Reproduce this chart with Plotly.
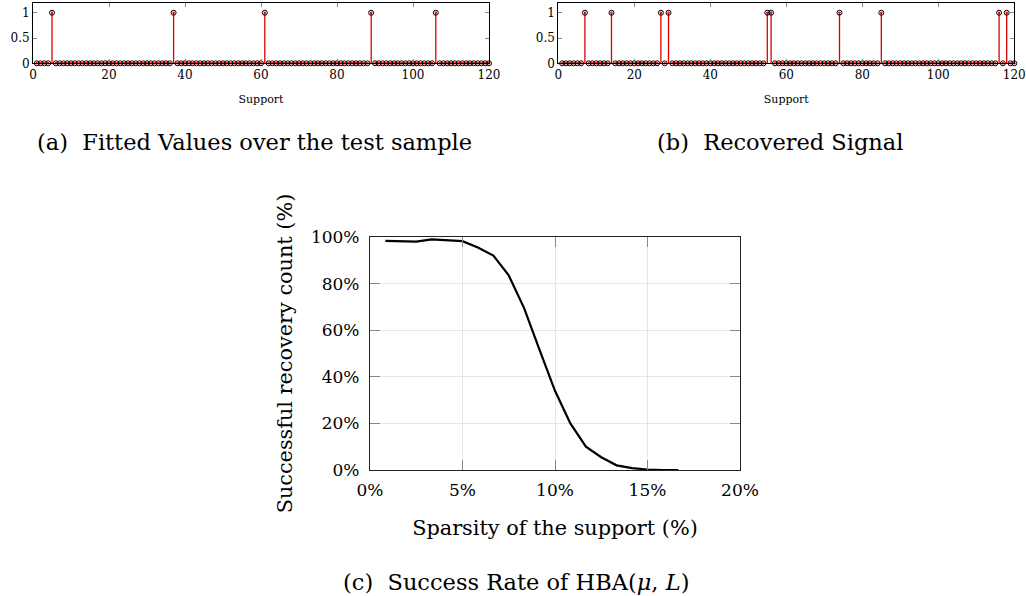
import plotly.graph_objects as go

# ---------------- data ----------------
support = list(range(1, 121))

fitted_values = [
    0, 0, 0, 0, 1, 0, 0, 0, 0, 0, 0, 0, 0, 0, 0, 0, 0, 0, 0, 0,   # 1-20
    0, 0, 0, 0, 0, 0, 0, 0, 0, 0, 0, 0, 0, 0, 0, 0, 1, 0, 0, 0,   # 21-40
    0, 0, 0, 0, 0, 0, 0, 0, 0, 0, 0, 0, 0, 0, 0, 0, 0, 0, 0, 0,   # 41-60
    1, 0, 0, 0, 0, 0, 0, 0, 0, 0, 0, 0, 0, 0, 0, 0, 0, 0, 0, 0,   # 61-80
    0, 0, 0, 0, 0, 0, 0, 0, 1, 0, 0, 0, 0, 0, 0, 0, 0, 0, 0, 0,   # 81-100
    0, 0, 0, 0, 0, 1, 0, 0, 0, 0, 0, 0, 0, 0, 0, 0, 0, 0, 0, 0,   # 101-120
]

recovered_signal = [
    0, 0, 0, 0, 0, 0, 1, 0, 0, 0, 0, 0, 0, 1, 0, 0, 0, 0, 0, 0,   # 1-20
    0, 0, 0, 0, 0, 0, 1, 0, 1, 0, 0, 0, 0, 0, 0, 0, 0, 0, 0, 0,   # 21-40
    0, 0, 0, 0, 0, 0, 0, 0, 0, 0, 0, 0, 0, 0, 1, 1, 0, 0, 0, 0,   # 41-60
    0, 0, 0, 0, 0, 0, 0, 0, 0, 0, 0, 0, 0, 1, 0, 0, 0, 0, 0, 0,   # 61-80
    0, 0, 0, 0, 1, 0, 0, 0, 0, 0, 0, 0, 0, 0, 0, 0, 0, 0, 0, 0,   # 81-100
    0, 0, 0, 0, 0, 0, 0, 0, 0, 0, 0, 0, 0, 0, 0, 1, 0, 1, 0, 0,   # 101-120
]

sparsity_pct = [0.83, 1.67, 2.5, 3.33, 4.17, 5.0, 5.83, 6.67, 7.5, 8.33,
                9.17, 10.0, 10.83, 11.67, 12.5, 13.33, 14.17, 15.0, 15.83, 16.67]
success_pct = [98.3, 98.2, 98.0, 99.0, 98.5, 98.2, 95.5, 92.0, 83.5, 69.5,
               51.5, 34.0, 20.0, 10.0, 5.5, 2.0, 0.8, 0.2, 0.0, 0.0]

stem_xticks = [0, 20, 40, 60, 80, 100, 120]
stem_yticks = [0, 0.5, 1]
stem_ytick_labels = ["0", "0.5", "1"]
rate_xticks = [0, 5, 10, 15, 20]
rate_xtick_labels = ["0%", "5%", "10%", "15%", "20%"]
rate_yticks = [0, 20, 40, 60, 80, 100]
rate_ytick_labels = ["0%", "20%", "40%", "60%", "80%", "100%"]

captions = ["(a)  Fitted Values over the test sample",
            "(b)  Recovered Signal",
            "(c)  Success Rate of HBA(<i>μ</i>, <i>L</i>)"]

# ---------------- figure ----------------
W, H = 1026, 596
FONT = "DejaVu Serif"

def px_x(p):
    return p / W

def px_y(p):
    return 1 - p / H

fig = go.Figure()

for i, vals in enumerate([fitted_values, recovered_signal]):
    xa = "x" if i == 0 else "x2"
    ya = "y" if i == 0 else "y2"
    # red stems with red dots
    fig.add_trace(go.Scatter(
        x=support, y=vals, xaxis=xa, yaxis=ya, mode="markers",
        marker=dict(color="red", size=2.5),
        error_y=dict(type="data", symmetric=False, array=[0] * len(vals),
                     arrayminus=vals, width=0, color="#e00000", thickness=1.3),
        cliponaxis=False, showlegend=False, hoverinfo="skip"))
    # black open circles
    fig.add_trace(go.Scatter(
        x=support, y=vals, xaxis=xa, yaxis=ya, mode="markers",
        marker=dict(symbol="circle-open", color="black", size=5,
                    line=dict(width=1, color="black")),
        cliponaxis=False, showlegend=False, hoverinfo="skip"))

fig.add_trace(go.Scatter(
    x=sparsity_pct, y=success_pct, xaxis="x3", yaxis="y3", mode="lines",
    line=dict(color="black", width=2.2), showlegend=False))

stem_common_x = dict(range=[0, 120], tickmode="array", tickvals=stem_xticks,
                     ticks="inside", ticklen=4, tickcolor="#888", mirror="allticks",
                     showline=True, linecolor="black", linewidth=1, showgrid=False,
                     zeroline=False, automargin=False, ticklabelstandoff=0,
                     tickfont=dict(family=FONT, size=12, color="black"),
                     title=dict(text="Support", font=dict(family=FONT, size=11, color="black"),
                                standoff=14))
stem_common_y = dict(range=[0, 1.2], tickmode="array", tickvals=stem_yticks,
                     ticktext=stem_ytick_labels, ticks="inside", ticklen=4,
                     tickcolor="#888", mirror="allticks", showline=True,
                     linecolor="black", linewidth=1, showgrid=False, zeroline=False,
                     automargin=False,
                     tickfont=dict(family=FONT, size=12, color="black"))

fig.update_layout(
    width=W, height=H, margin=dict(l=0, r=0, t=0, b=0, pad=0),
    paper_bgcolor="white", plot_bgcolor="white",
    font=dict(family=FONT, color="black"),
    xaxis=dict(domain=[px_x(33), px_x(489)], anchor="y", **stem_common_x),
    yaxis=dict(domain=[px_y(63.3), px_y(2.6)], anchor="x", **stem_common_y),
    xaxis2=dict(domain=[px_x(558.3), px_x(1014.3)], anchor="y2", **stem_common_x),
    yaxis2=dict(domain=[px_y(63.3), px_y(2.6)], anchor="x2", **stem_common_y),
    xaxis3=dict(domain=[px_x(370), px_x(740)], anchor="y3", range=[0, 20],
                tickmode="array", tickvals=rate_xticks, ticktext=rate_xtick_labels,
                ticks="inside", ticklen=10, tickcolor="#888", mirror="allticks",
                showline=True, linecolor="#222", linewidth=1.2, showgrid=True,
                gridcolor="#e6e6e6", gridwidth=1, zeroline=False, automargin=False,
                ticklabelstandoff=4,
                tickfont=dict(family=FONT, size=17, color="black"),
                title=dict(text="Sparsity of the support (%)",
                           font=dict(family=FONT, size=20.8, color="black"), standoff=21)),
    yaxis3=dict(domain=[px_y(470), px_y(237)], anchor="x3", range=[0, 100],
                tickmode="array", tickvals=rate_yticks, ticktext=rate_ytick_labels,
                ticks="inside", ticklen=10, tickcolor="#888", mirror="allticks",
                showline=True, linecolor="#222", linewidth=1.2, showgrid=True,
                gridcolor="#e6e6e6", gridwidth=1, zeroline=False, automargin=False,
                ticklabelstandoff=6,
                tickfont=dict(family=FONT, size=17, color="black"),
                title=dict(text="Successful recovery count (%)",
                           font=dict(family=FONT, size=20.8, color="black"), standoff=12)),
)

cap_pos = [(254, 142), (780, 142), (516, 582)]
for text, (cx, cy) in zip(captions, cap_pos):
    fig.add_annotation(text=text, x=px_x(cx), y=px_y(cy), xref="paper", yref="paper",
                       showarrow=False, xanchor="center", yanchor="middle",
                       font=dict(family=FONT, size=22.5, color="black"))

fig.write_html("out.html",
               config={"displayModeBar": False},
               post_script="document.body.style.margin='0px';document.body.style.padding='0px';")
